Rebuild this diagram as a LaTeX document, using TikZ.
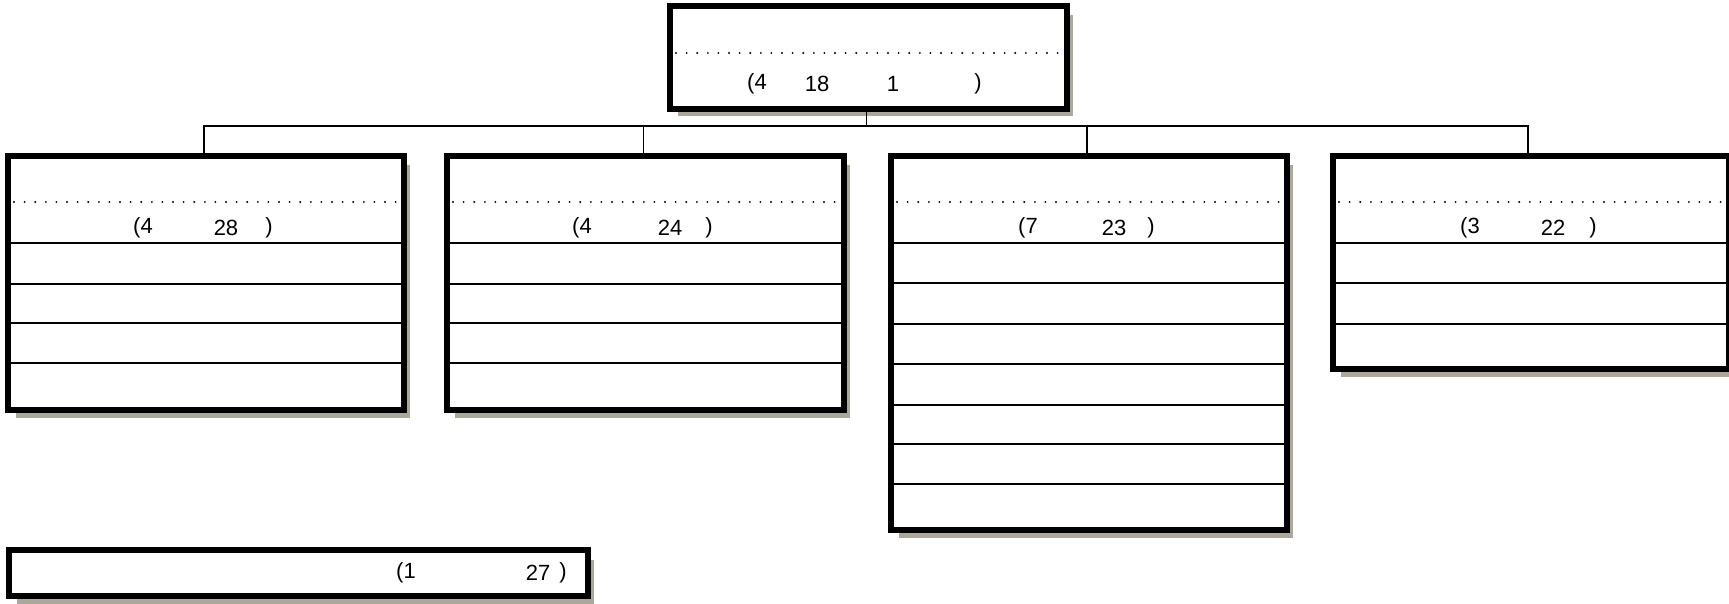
\documentclass[tikz,border=0pt]{standalone}
\usepackage{fontspec}
\setmainfont{Liberation Sans}
\usetikzlibrary{shadows}
\definecolor{shadowc}{RGB}{171,167,153}
\begin{document}
\begin{tikzpicture}[x=1pt,y=-1pt,
  box/.style={draw=black,line width=4pt,fill=white,rectangle,inner sep=0pt,anchor=north west,
    drop shadow={shadow xshift=6.5pt,shadow yshift=-8.5pt,fill=shadowc,opacity=1}},
  rowline/.style={line width=1.6pt},
  dotline/.style={line width=2.1pt,line cap=round,dash pattern=on 0pt off 10.6pt},
  conn/.style={line width=1.6pt},
  lbl/.style={inner sep=0pt,font=\fontsize{22}{26}\selectfont}]
\useasboundingbox (0,0) rectangle (1729,604);
% boxes (outer edges inset by half the border width)
\node[box,minimum width=395pt,minimum height=101pt] (top) at (669,5) {};
\node[box,minimum width=394pt,minimum height=252pt] (b1) at (7,155) {};
\node[box,minimum width=395pt,minimum height=252pt] (b2) at (446,155) {};
\node[box,minimum width=394pt,minimum height=372pt] (b3) at (890,155) {};
\node[box,minimum width=394pt,minimum height=211pt] (b4) at (1332,155) {};
\node[box,minimum width=577pt,minimum height=44pt] (bot) at (8,549) {};
% dotted separators
\draw[dotline] ([xshift=7pt]top.west |- 0,53) -- ([xshift=-8pt]top.east |- 0,53);
\foreach \b in {b1,b2,b3,b4}{
  \draw[dotline] ([xshift=7pt]\b.west |- 0,202) -- ([xshift=-8pt]\b.east |- 0,202);
}
% row lines
\foreach \b/\ys in {b1/{243,284,323,363},b2/{243,284,323,363},b3/{243,283,324,364,405,444,484},b4/{243,283,324}}{
  \foreach \y in \ys {
    \draw[rowline] (\b.west |- 0,\y) -- (\b.east |- 0,\y);
  }
}
% redraw borders on top of row lines
\foreach \b in {top,b1,b2,b3,b4,bot}{
  \draw[line width=4pt] (\b.north west) rectangle (\b.south east);
}
% connectors
\coordinate (bus) at (864,126);
\draw[conn] ([xshift=-2pt]top.south) -- ([xshift=-2pt]top.south |- bus);
\draw[conn] ([xshift=-2pt]b1.north) |- ([xshift=-3pt]b4.north |- bus) -- ([xshift=-3pt]b4.north);
\draw[conn] ([xshift=-2pt]b2.north) -- ([xshift=-2pt]b2.north |- bus);
\draw[conn] ([xshift=-2pt]b3.north) -- ([xshift=-2pt]b3.north |- bus);
% labels
\node[lbl] (t0a) at (757,84) {(4};
\node[lbl] (t0b) at (817,84) {18};
\node[lbl] (t0c) at (893,84) {1};
\node[lbl] (t0d) at (978,84) {)};
\node[lbl] (t1a) at (143,228) {(4};
\node[lbl] (t1b) at (226,228) {28};
\node[lbl] (t1c) at (269,228) {)};
\node[lbl] (t2a) at (582,228) {(4};
\node[lbl] (t2b) at (670,228) {24};
\node[lbl] (t2c) at (709,228) {)};
\node[lbl] (t3a) at (1028,228) {(7};
\node[lbl] (t3b) at (1114,228) {23};
\node[lbl] (t3c) at (1151,228) {)};
\node[lbl] (t4a) at (1470,228) {(3};
\node[lbl] (t4b) at (1553,228) {22};
\node[lbl] (t4c) at (1593,228) {)};
\node[lbl] (t5a) at (406,573) {(1};
\node[lbl] (t5b) at (538,573) {27};
\node[lbl] (t5c) at (563,573) {)};
\end{tikzpicture}
\end{document}
